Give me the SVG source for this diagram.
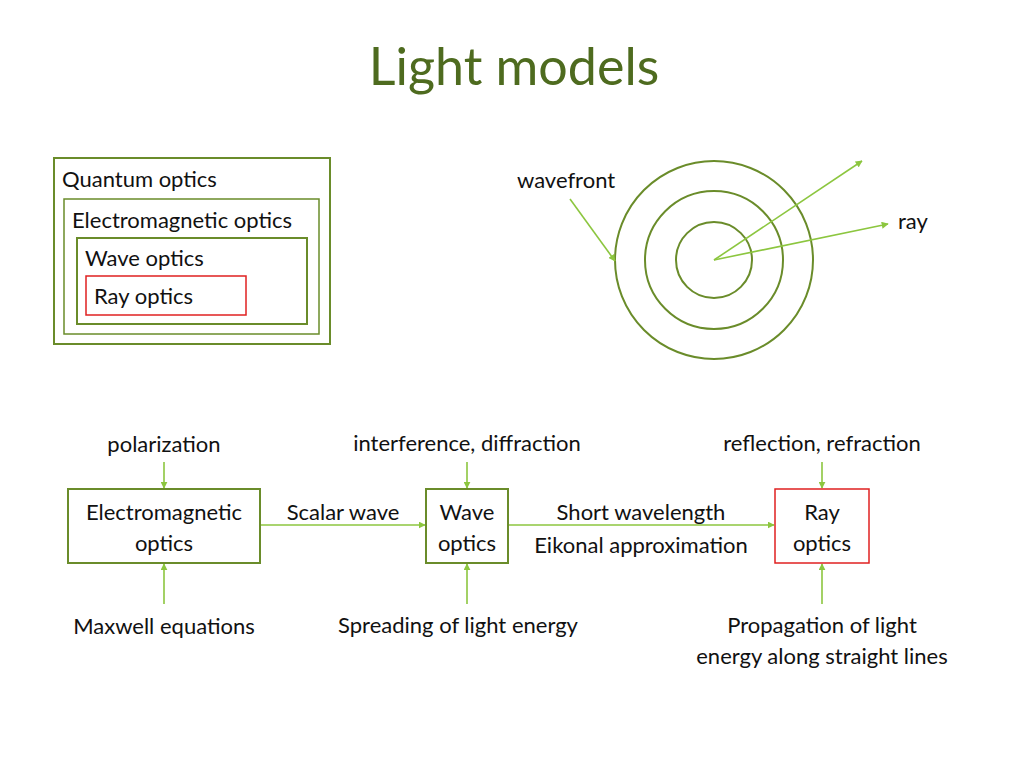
<svg xmlns="http://www.w3.org/2000/svg" width="1024" height="768" viewBox="0 0 1024 768">
<style>
text{font-family:Lato,"Open Sans","Liberation Sans",sans-serif;font-size:22px;fill:#111}
.b{fill:none;stroke:#6a8c2a;stroke-width:2}
.r{fill:none;stroke:#e02020;stroke-width:1.5}
.a{stroke:#8cc63f;stroke-width:1.6;fill:none;marker-end:url(#ah)}
.m{text-anchor:middle}
</style>
<defs><marker id="ah" viewBox="0 0 10 10" refX="9" refY="5" markerWidth="7" markerHeight="7" orient="auto" markerUnits="userSpaceOnUse"><path d="M0,0L10,5L0,10z" fill="#8cc63f"/></marker></defs>
<rect width="1024" height="768" fill="#fff"/>
<text x="514" y="85" class="m" style="font-size:52px;fill:#4e6b1f">Light models</text>
<g id="nested">
<rect class="b" x="54" y="158" width="276" height="186"/>
<text x="62" y="187">Quantum optics</text>
<rect class="b" x="64" y="199" width="255" height="135" style="stroke-width:1.5"/>
<text x="72" y="228">Electromagnetic optics</text>
<rect class="b" x="77" y="238" width="230" height="86"/>
<text x="85" y="266">Wave optics</text>
<rect class="r" x="86" y="276" width="160" height="39"/>
<text x="94" y="304">Ray optics</text>
</g>
<g id="waves">
<circle class="b" cx="714" cy="260" r="99"/>
<circle class="b" cx="714" cy="260" r="69"/>
<circle class="b" cx="714" cy="260" r="38"/>
<text x="517" y="188">wavefront</text>
<text x="898" y="229">ray</text>
</g>
<g id="connectors">
<line class="a" x1="570" y1="199" x2="615" y2="261"/>
<line class="a" x1="714" y1="260" x2="862" y2="161"/>
<line class="a" x1="714" y1="260" x2="888" y2="224"/>
<line class="a" x1="261" y1="525" x2="425" y2="525"/>
<line class="a" x1="509" y1="525" x2="774" y2="525"/>
<line class="a" x1="164" y1="462" x2="164" y2="488"/>
<line class="a" x1="164" y1="604" x2="164" y2="564"/>
<line class="a" x1="467" y1="462" x2="467" y2="488"/>
<line class="a" x1="467" y1="604" x2="467" y2="564"/>
<line class="a" x1="822" y1="462" x2="822" y2="488"/>
<line class="a" x1="822" y1="604" x2="822" y2="564"/>
</g>
<g id="em"><rect class="b" x="68" y="489" width="192" height="74"/><text x="164" y="520" class="m">Electromagnetic</text><text x="164" y="551" class="m">optics</text></g>
<g id="wave"><rect class="b" x="426" y="489" width="82" height="74"/><text x="467" y="520" class="m">Wave</text><text x="467" y="551" class="m">optics</text></g>
<g id="ray"><rect class="r" x="775" y="489" width="94" height="74"/><text x="822" y="520" class="m">Ray</text><text x="822" y="551" class="m">optics</text></g>
<g id="labels">
<text x="164" y="452" class="m">polarization</text>
<text x="467" y="451" class="m">interference, diffraction</text>
<text x="822" y="451" class="m">reflection, refraction</text>
<text x="343" y="520" class="m">Scalar wave</text>
<text x="641" y="520" class="m">Short wavelength</text>
<text x="641" y="553" class="m">Eikonal approximation</text>
<text x="164" y="634" class="m">Maxwell equations</text>
<text x="458" y="633" class="m">Spreading of light energy</text>
<text x="822" y="633" class="m">Propagation of light</text>
<text x="822" y="664" class="m">energy along straight lines</text>
</g>
</svg>
